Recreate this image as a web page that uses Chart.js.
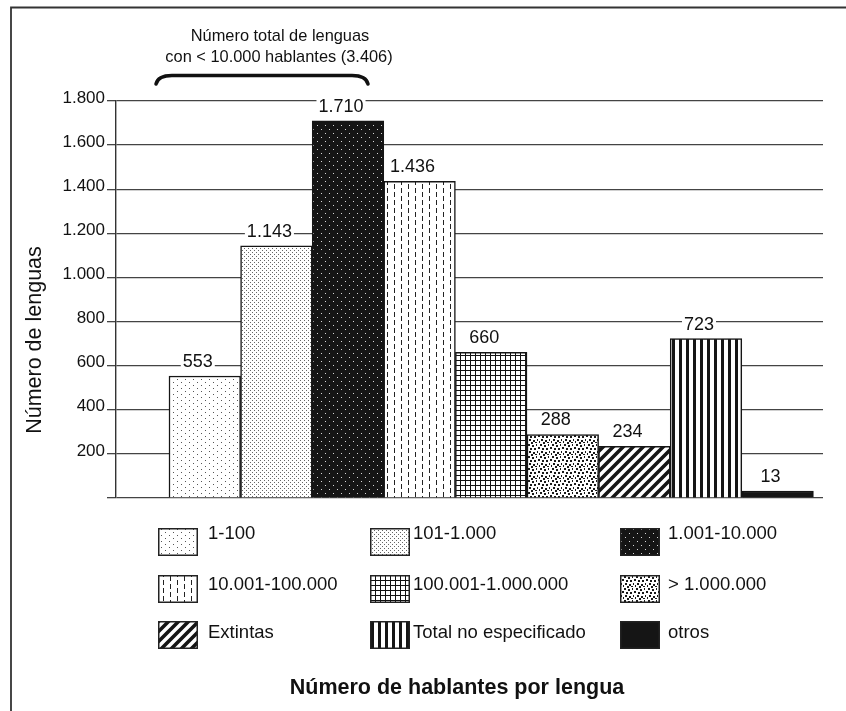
<!DOCTYPE html>
<html>
<head>
<meta charset="utf-8">
<script src="https://cdn.jsdelivr.net/npm/chart.js@4.4.1/dist/chart.umd.min.js"></script>
<style>
html,body{margin:0;padding:0;background:#fff;}
canvas{display:block;}
</style>
</head>
<body>
<canvas id="c" width="846" height="711" style="width:846px;height:711px"></canvas>
<script>
// ---- data ----
const categories = ['1-100','101-1.000','1.001-10.000','10.001-100.000','100.001-1.000.000','> 1.000.000','Extintas','Total no especificado','otros'];
const counts = [553, 1143, 1710, 1436, 660, 288, 234, 723, 13];
const countLabels = ['553','1.143','1.710','1.436','660','288','234','723','13'];
const yTickValues = [0, 200, 400, 600, 800, 1000, 1200, 1400, 1600, 1800];
const annotationLines = ['Número total de lenguas', 'con < 10.000 hablantes (3.406)'];
const yTitle = 'Número de lenguas';
const xTitle = 'Número de hablantes por lengua';

const FONT = "'Liberation Sans', Arial, Helvetica, sans-serif";
const INK = '#111';

function fmt(v){ return String(v).replace(/\B(?=(\d{3})+(?!\d))/g, '.'); }

function tile(w, h, draw){
  const c = document.createElement('canvas');
  c.width = w; c.height = h;
  const g = c.getContext('2d');
  draw(g, w, h);
  return g.createPattern(c, 'repeat');
}

const patterns = [
  // 1-100 : sparse dots
  tile(8, 6, (g,w,h)=>{ g.fillStyle='#fff'; g.fillRect(0,0,w,h); g.fillStyle='#555'; g.fillRect(1,1,1,1); g.fillRect(5,4,1,1); }),
  // 101-1.000 : dense fine dots
  tile(4, 4, (g,w,h)=>{ g.fillStyle='#fff'; g.fillRect(0,0,w,h); g.fillStyle='#666'; g.fillRect(0,0,1,1); g.fillRect(2,2,1,1); }),
  // 1.001-10.000 : black with white dots
  tile(8, 8, (g,w,h)=>{ g.fillStyle='#151515'; g.fillRect(0,0,w,h); g.fillStyle='#d8d8d8'; g.fillRect(1,1,1,1); g.fillRect(5,5,1,1); }),
  // 10.001-100.000 : dashed vertical lines
  tile(14, 8, (g,w,h)=>{ g.fillStyle='#fff'; g.fillRect(0,0,w,h); g.fillStyle='#222'; g.fillRect(2,0,1,5); g.fillRect(9,4,1,4); g.fillRect(9,0,1,1); }),
  // 100.001-1.000.000 : grid
  tile(5, 5, (g,w,h)=>{ g.fillStyle='#fff'; g.fillRect(0,0,w,h); g.fillStyle='#111'; g.fillRect(0,0,w,1); g.fillRect(0,0,1,h); }),
  // > 1.000.000 : irregular blotches
  tile(12, 12, (g,w,h)=>{ g.fillStyle='#fff'; g.fillRect(0,0,w,h); g.fillStyle='#1a1a1a';
    [[0,0,2,2],[4,1,2,2],[8,0,1,2],[10,3,2,2],[2,4,2,2],[6,4,2,2],[1,7,2,2],[5,8,2,2],[9,7,1,2],[3,10,2,2],[7,10,2,1],[11,9,1,2]].forEach(d=>g.fillRect(d[0],d[1],d[2],d[3])); }),
  // Extintas : diagonal stripes
  tile(10, 10, (g,w,h)=>{ g.fillStyle='#fff'; g.fillRect(0,0,w,h); g.strokeStyle='#151515'; g.lineWidth=3.6;
    g.beginPath(); g.moveTo(-1,11); g.lineTo(11,-1); g.moveTo(-6,6); g.lineTo(6,-6); g.moveTo(4,16); g.lineTo(16,4); g.stroke(); }),
  // Total no especificado : vertical stripes
  tile(7, 4, (g,w,h)=>{ g.fillStyle='#fff'; g.fillRect(0,0,w,h); g.fillStyle='#151515'; g.fillRect(0,0,3,h); }),
  // otros : solid
  '#151515'
];

const legendCols = [{sx:158, tx:208}, {sx:370, tx:413}, {sx:620, tx:668}];
const legendRows = [{sy:528, ty:534}, {sy:575, ty:585}, {sy:621, ty:633}];

const decor = {
  id: 'decor',
  beforeDraw(chart){
    const c = chart.ctx;
    c.save();
    c.strokeStyle = '#333'; c.lineWidth = 1.8;
    c.beginPath(); c.moveTo(11, 711); c.lineTo(11, 7.5); c.lineTo(846, 7.5); c.stroke();
    c.restore();
  },
  afterDatasetsDraw(chart){
    const c = chart.ctx;
    const meta = chart.getDatasetMeta(0);
    c.save();
    c.font = '18px ' + FONT;
    c.textAlign = 'center';
    c.textBaseline = 'alphabetic';
    meta.data.forEach((el, i) => {
      const t = countLabels[i];
      const x = el.x - 7, y = el.y - 9;
      const w = c.measureText(t).width;
      c.fillStyle = '#fff';
      c.fillRect(x - w/2 - 2, y - 14, w + 4, 15);
      c.fillStyle = INK;
      c.fillText(t, x, y);
    });
    c.restore();
  },
  afterDraw(chart){
    const c = chart.ctx;
    c.save();
    // top annotation
    c.fillStyle = INK;
    c.font = '16.4px ' + FONT;
    c.textAlign = 'center'; c.textBaseline = 'middle';
    c.fillText(annotationLines[0], 280, 36);
    c.fillText(annotationLines[1], 279, 57);
    // bracket
    c.strokeStyle = INK; c.lineWidth = 3.5; c.lineCap = 'round';
    c.beginPath();
    c.moveTo(156, 84);
    c.quadraticCurveTo(158, 75.5, 172, 75.5);
    c.lineTo(352, 75.5);
    c.quadraticCurveTo(366, 75.5, 368, 84);
    c.stroke();
    // y title
    c.save();
    c.translate(35, 340);
    c.rotate(-Math.PI/2);
    c.font = '21.5px ' + FONT;
    c.textAlign = 'center'; c.textBaseline = 'middle';
    c.fillText(yTitle, 0, 0);
    c.restore();
    // legend
    c.font = '18.5px ' + FONT;
    c.textAlign = 'left'; c.textBaseline = 'middle';
    categories.forEach((name, i) => {
      const col = legendCols[i % 3], row = legendRows[Math.floor(i / 3)];
      c.fillStyle = patterns[i];
      c.fillRect(col.sx, row.sy, 40, 28);
      c.strokeStyle = '#222'; c.lineWidth = 1.5;
      c.strokeRect(col.sx + 0.75, row.sy + 0.75, 38.5, 26.5);
      c.fillStyle = INK;
      c.fillText(name, col.tx, row.ty);
    });
    // x title
    c.font = 'bold 21.5px ' + FONT;
    c.textAlign = 'center'; c.textBaseline = 'middle';
    c.fillText(xTitle, 457, 688);
    c.restore();
  }
};

new Chart(document.getElementById('c'), {
  type: 'bar',
  data: {
    datasets: [{
      label: 'Número de lenguas',
      data: counts.map((v, i) => ({x: i + 1, y: v})),
      backgroundColor: patterns,
      borderColor: '#151515',
      borderWidth: 1.5,
      borderSkipped: 'start',
      barPercentage: 1,
      categoryPercentage: 1,
      minBarLength: 7
    }]
  },
  options: {
    responsive: false,
    animation: false,
    events: [],
    layout: { padding: { left: 0, top: 101, right: 23, bottom: 213 } },
    plugins: { legend: { display: false }, tooltip: { enabled: false } },
    scales: {
      x: {
        type: 'linear',
        display: false,
        offset: false,
        min: -0.24,
        max: 9.634,
        grid: { offset: false },
        ticks: { stepSize: 1, includeBounds: false }
      },
      y: {
        min: 0, max: 1800,
        afterFit(s){ s.width = 116; },
        afterBuildTicks(s){ s.ticks = yTickValues.map(v => ({value: v})); },
        border: { display: true, color: '#333', width: 1.4 },
        grid: { color: '#444', lineWidth: 1.3, tickLength: 9, drawTicks: true },
        ticks: {
          color: INK,
          padding: 2,
          labelOffset: -3,
          font: { family: FONT, size: 17 },
          callback: v => v === 0 ? '' : fmt(v)
        }
      }
    }
  },
  plugins: [decor]
});
</script>
</body>
</html>
